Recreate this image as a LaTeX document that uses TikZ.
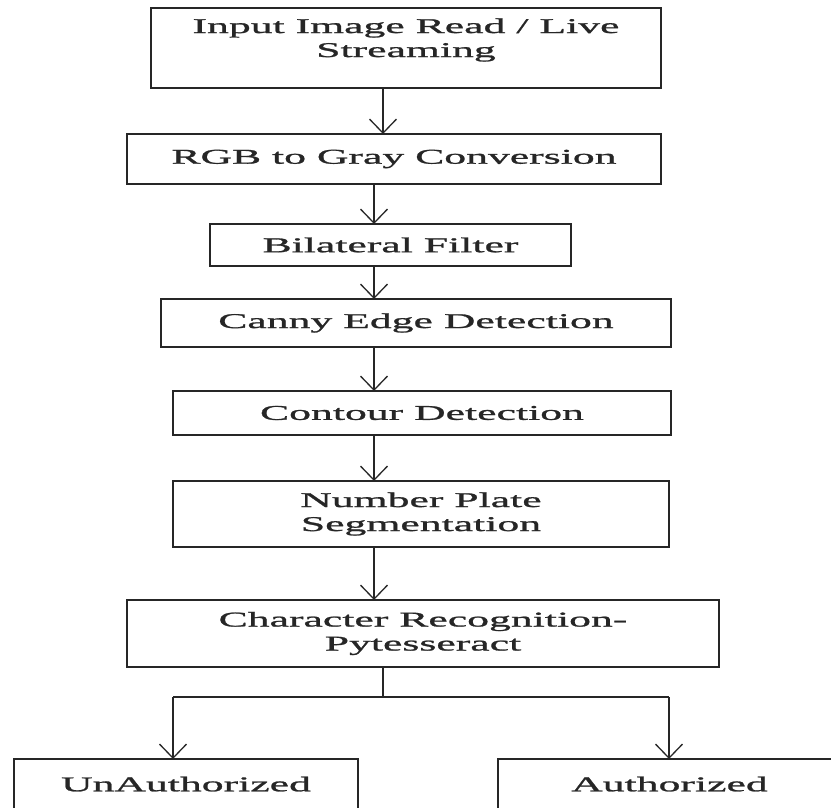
\documentclass[tikz,border=0pt]{standalone}
\usepackage{fontspec}
\setmainfont{Liberation Serif}[FakeStretch=2.08,FakeBold=1.2]
\usetikzlibrary{arrows.meta}
\definecolor{ink}{gray}{0.15}
\begin{document}
\begin{tikzpicture}[x=1pt,y=-1pt,
  box/.style={draw=ink, line width=1.3pt, rectangle, inner sep=0pt, outer sep=0pt,
              align=center, text=ink, font=\fontsize{21}{24}\selectfont},
  txt/.style={align=center, text=ink, inner sep=0pt, font=\fontsize{21}{24}\selectfont},
  arr/.style={draw=ink, line width=1.3pt, -{Straight Barb[length=14pt,width=27pt,line width=1.3pt]}},
  ln/.style={draw=ink, line width=1.3pt}]
\useasboundingbox (0,0) rectangle (831,807);
\fill[white] (0,0) rectangle (831,807);
\clip (0,0) rectangle (831,807);

\coordinate (sA) at (383,0);
\coordinate (sB) at (374,0);

\node[box, minimum width=510pt, minimum height=80pt] (b1) at (406,48) {};
\node[txt] (t1) at (406,40) {Input Image Read / Live\\Streaming};
\node[box, minimum width=534pt, minimum height=50pt] (b2) at (394,159) {RGB to Gray Conversion};
\node[box, minimum width=361pt, minimum height=42pt] (b3) at (390.5,245) {Bilateral Filter};
\node[box, minimum width=510pt, minimum height=48pt] (b4) at (416,323) {Canny Edge Detection};
\node[box, minimum width=498pt, minimum height=44pt] (b5) at (422,413) {Contour Detection};
\node[box, minimum width=496pt, minimum height=66pt] (b6) at (421,514) {Number Plate\\Segmentation};
\node[box, minimum width=592pt, minimum height=67pt] (b7) at (423,633.5) {Character Recognition-\\Pytesseract};
\node[box, minimum width=344pt, minimum height=53pt] (bu) at (186,785.5) {\raisebox{3pt}{UnAuthorized}};
\node[box, minimum width=343pt, minimum height=53pt] (ba) at (669.5,785.5) {\raisebox{3pt}{Authorized}};

\draw[arr] (b1.south -| sA) -- (b2.north -| sA);
\draw[arr] (b2.south -| sB) -- (b3.north -| sB);
\draw[arr] (b3.south -| sB) -- (b4.north -| sB);
\draw[arr] (b4.south -| sB) -- (b5.north -| sB);
\draw[arr] (b5.south -| sB) -- (b6.north -| sB);
\draw[arr] (b6.south -| sB) -- (b7.north -| sB);

\coordinate (j) at (383,697);
\coordinate (dl) at (173,697);
\coordinate (dr) at (669,697);
\draw[ln] (b7.south -| sA) -- (j);
\draw[ln] (dl) -- (dr);
\draw[arr] (dl) -- (bu.north -| dl);
\draw[arr] (dr) -- (ba.north -| dr);
\end{tikzpicture}
\end{document}
